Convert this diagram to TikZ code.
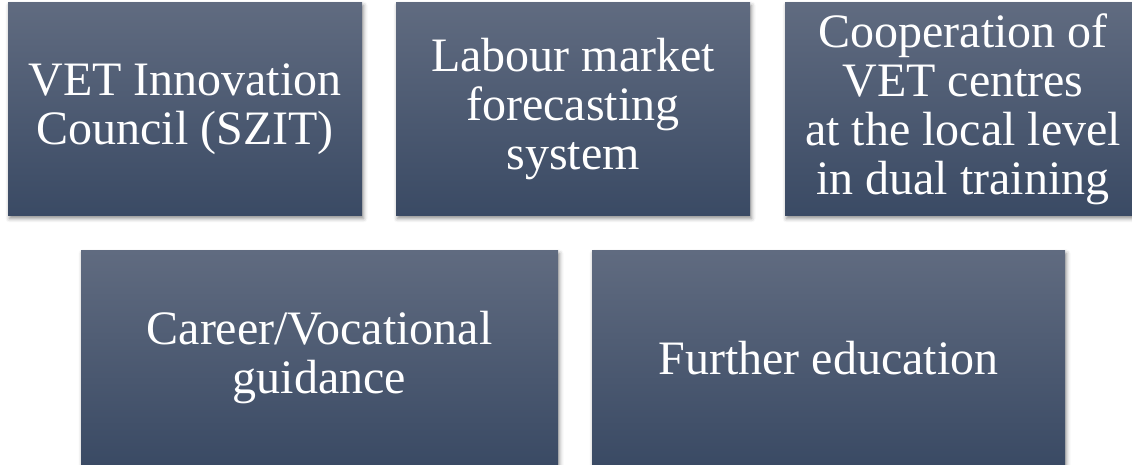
\documentclass[tikz,border=0pt]{standalone}
\usepackage{fontspec}
\setmainfont{Liberation Serif}
\usetikzlibrary{shadows.blur}
\definecolor{paneltop}{RGB}{96,107,128}
\definecolor{panelbot}{RGB}{58,74,100}
\tikzset{
  panel/.style={rectangle, inner sep=0pt, top color=paneltop, bottom color=panelbot,
    draw=none, text=white, align=center,
    font=\fontsize{48}{49}\selectfont,
    blur shadow={shadow xshift=1.5pt, shadow yshift=-2.5pt, shadow blur radius=4pt, shadow opacity=45}},
  paneltext/.style={inner sep=0pt, text=white, align=center,
    font=\fontsize{48}{49}\selectfont}
}
\begin{document}
\begin{tikzpicture}[x=1pt,y=1pt]
\useasboundingbox (0,0) rectangle (1132,465);
\clip (0,0) rectangle (1132,465);
\node[panel, minimum width=354pt, minimum height=213pt] (szit) at (185,355.5)
  {VET Innovation\\Council (SZIT)};
\node[panel, minimum width=354pt, minimum height=213pt] (lmfs) at (573,355.5)
  {Labour market\\forecasting\\system};
\node[panel, minimum width=354pt, minimum height=213pt] (coop) at (962,355.5) {};
\node[paneltext] (cooptext) at ([xshift=1pt]coop.center)
  {Cooperation of\\VET centres\\at the local level\\in dual training};
\node[panel, minimum width=477pt, minimum height=214pt] (guid) at (319.5,107)
  {Career/Vocational\\guidance};
\node[panel, minimum width=473pt, minimum height=214pt] (fed) at (828.5,107)
  {Further education};
\end{tikzpicture}
\end{document}
